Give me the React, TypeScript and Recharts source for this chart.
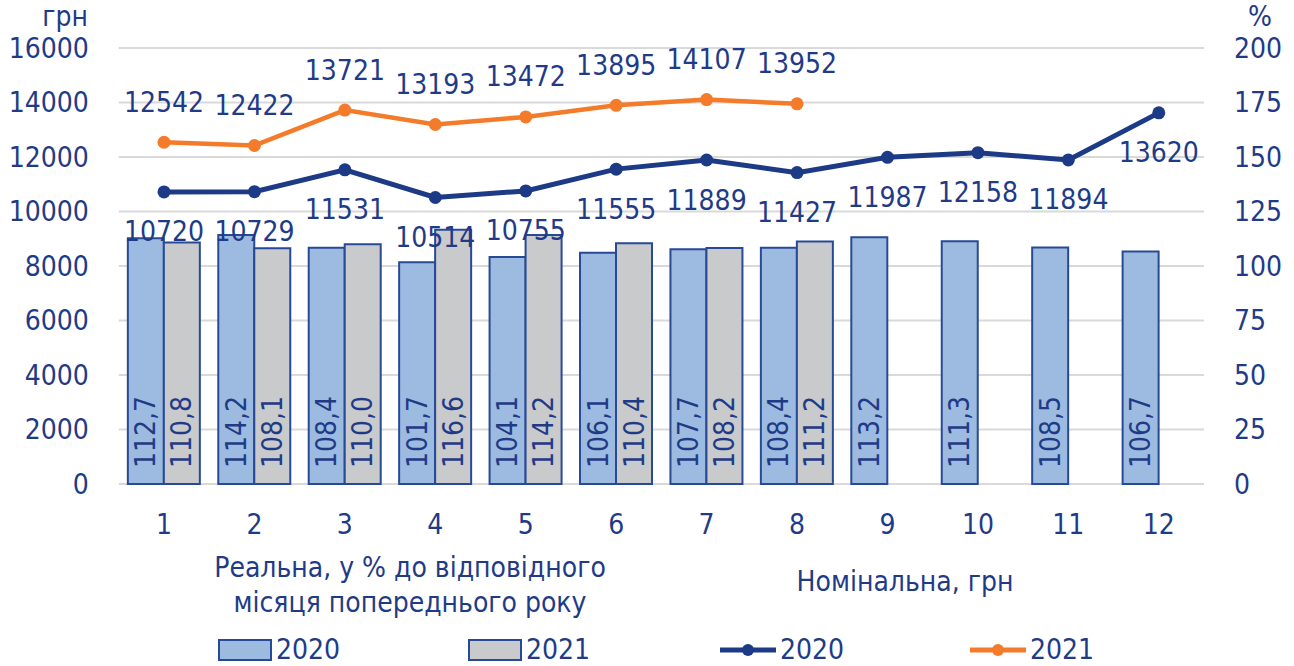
import { Bar, CartesianGrid, ComposedChart, LabelList, Line, XAxis, YAxis } from 'recharts'

const MONTHS = ['1', '2', '3', '4', '5', '6', '7', '8', '9', '10', '11', '12']
// real wage, % to the same month of the previous year (right axis)
const REAL_2020 = [112.7, 114.2, 108.4, 101.7, 104.1, 106.1, 107.7, 108.4, 113.2, 111.3, 108.5, 106.7]
const REAL_2021 = [110.8, 108.1, 110.0, 116.6, 114.2, 110.4, 108.2, 111.2, null, null, null, null]
// nominal wage, UAH (left axis)
const NOMINAL_2020 = [10720, 10729, 11531, 10514, 10755, 11555, 11889, 11427, 11987, 12158, 11894, 13620]
const NOMINAL_2021 = [12542, 12422, 13721, 13193, 13472, 13895, 14107, 13952, null, null, null, null]

const UAH_TICKS = [0, 2000, 4000, 6000, 8000, 10000, 12000, 14000, 16000]
const PCT_TICKS = [0, 25, 50, 75, 100, 125, 150, 175, 200]

const FONT = "'DejaVu Sans Condensed', 'Liberation Sans', sans-serif"
const TEXT = '#1F3B87'
const NAVY = '#1C3A85'
const ORANGE = '#F47B2A'
const BLUE_FILL = '#9DBBE0'
const GRAY_FILL = '#C9CACC'
const BAR_STROKE = '#284A96'
const FS = 28

const data = MONTHS.map((month, i) => ({
  month,
  real2020: REAL_2020[i],
  real2021: REAL_2021[i],
  nom2020: NOMINAL_2020[i],
  nom2021: NOMINAL_2021[i],
}))

function BarValueLabel(props: any) {
  const { x, y, width, height, value } = props
  if (value == null) return null
  const cx = x + width / 2
  const by = y + height - 16
  return (
    <text
      x={cx}
      y={by}
      transform={`rotate(-90, ${cx}, ${by})`}
      textAnchor="start"
      dominantBaseline="central"
      fill={TEXT}
      fontSize={FS}
      fontFamily={FONT}
    >
      {Number(value).toFixed(1).replace('.', ',')}
    </text>
  )
}

function makeLineLabel(dy: number) {
  return function LineValueLabel(props: any) {
    const { x, y, value } = props
    if (value == null) return null
    return (
      <text x={x} y={y + dy} textAnchor="middle" dominantBaseline="central" fill={TEXT} fontSize={FS} fontFamily={FONT}>
        {value}
      </text>
    )
  }
}

const legendItems = [
  { label: '2020', kind: 'bar', color: BLUE_FILL, left: 218 },
  { label: '2021', kind: 'bar', color: GRAY_FILL, left: 468 },
  { label: '2020', kind: 'line', color: NAVY, left: 720 },
  { label: '2021', kind: 'line', color: ORANGE, left: 970 },
]

export default function App() {
  const textStyle = { position: 'absolute' as const, color: TEXT, fontFamily: FONT, fontSize: FS, lineHeight: `${FS}px`, whiteSpace: 'nowrap' as const }
  return (
    <div style={{ position: 'absolute', left: 0, top: 0, width: 1294, height: 666, background: '#fff' }}>
      <ComposedChart
        width={1294}
        height={666}
        data={data}
        margin={{ top: 48, right: 0, bottom: 142, left: 0 }}
        barCategoryGap="10%"
        barGap={0}
      >
        <CartesianGrid vertical={false} stroke="#D9D9D9" strokeWidth={2} yAxisId="uah" />
        <XAxis
          dataKey="month"
          axisLine={false}
          tickLine={false}
          tickSize={0}
          tickMargin={30}
          height={40}
          tick={{ fill: TEXT, fontSize: FS, fontFamily: FONT }}
        />
        <YAxis
          yAxisId="uah"
          orientation="left"
          domain={[0, 16000]}
          ticks={UAH_TICKS}
          width={118.8}
          axisLine={false}
          tickLine={false}
          tickSize={0}
          tickMargin={30}
          tick={{ fill: TEXT, fontSize: FS, fontFamily: FONT }}
        />
        <YAxis
          yAxisId="pct"
          orientation="right"
          domain={[0, 200]}
          ticks={PCT_TICKS}
          width={90}
          axisLine={false}
          tickLine={false}
          tickSize={0}
          tickMargin={30}
          tick={{ fill: TEXT, fontSize: FS, fontFamily: FONT, textAnchor: 'start' }}
        />
        <Bar yAxisId="pct" dataKey="real2020" fill={BLUE_FILL} stroke={BAR_STROKE} strokeWidth={2} isAnimationActive={false}>
          <LabelList dataKey="real2020" content={BarValueLabel} />
        </Bar>
        <Bar yAxisId="pct" dataKey="real2021" fill={GRAY_FILL} stroke={BAR_STROKE} strokeWidth={2} isAnimationActive={false}>
          <LabelList dataKey="real2021" content={BarValueLabel} />
        </Bar>
        <Line
          yAxisId="uah"
          dataKey="nom2020"
          stroke={NAVY}
          strokeWidth={5}
          dot={{ r: 6.5, fill: NAVY, stroke: NAVY, strokeWidth: 0 }}
          isAnimationActive={false}
        >
          <LabelList dataKey="nom2020" content={makeLineLabel(40)} />
        </Line>
        <Line
          yAxisId="uah"
          dataKey="nom2021"
          stroke={ORANGE}
          strokeWidth={4.5}
          dot={{ r: 6.5, fill: ORANGE, stroke: ORANGE, strokeWidth: 0 }}
          isAnimationActive={false}
        >
          <LabelList dataKey="nom2021" content={makeLineLabel(-40)} />
        </Line>
      </ComposedChart>

      <div style={{ ...textStyle, left: 0, width: 88, textAlign: 'right', top: 3 }}>грн</div>
      <div style={{ ...textStyle, left: 1230, width: 60, textAlign: 'center', top: 3 }}>%</div>

      <div style={{ ...textStyle, left: 210, width: 400, textAlign: 'center', top: 554 }}>Реальна, у % до відповідного</div>
      <div style={{ ...textStyle, left: 210, width: 400, textAlign: 'center', top: 589 }}>місяця попереднього року</div>
      <div style={{ ...textStyle, left: 705, width: 400, textAlign: 'center', top: 568 }}>Номінальна, грн</div>

      {legendItems.map((item, i) => (
        <div key={i} style={{ position: 'absolute', left: item.left, top: 636, height: 28, display: 'flex', alignItems: 'center' }}>
          {item.kind === 'bar' ? (
            <div style={{ width: 50, height: 18, background: item.color, border: `2px solid ${BAR_STROKE}` }} />
          ) : (
            <svg width={56} height={28}>
              <line x1={0} y1={14} x2={56} y2={14} stroke={item.color} strokeWidth={5} />
              <circle cx={28} cy={14} r={6} fill={item.color} />
            </svg>
          )}
          <span style={{ marginLeft: 4, color: TEXT, fontFamily: FONT, fontSize: FS, lineHeight: '28px' }}>{item.label}</span>
        </div>
      ))}
    </div>
  )
}
